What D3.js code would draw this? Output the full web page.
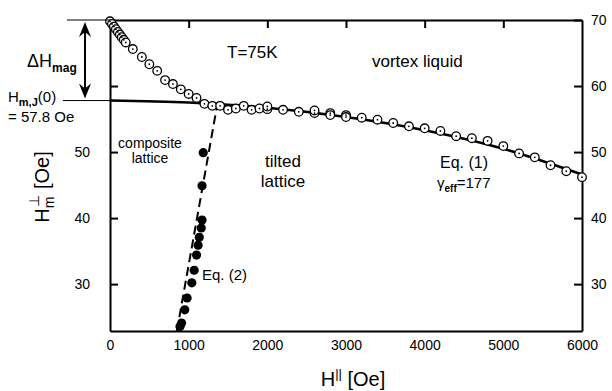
<!DOCTYPE html>
<html>
<head>
<meta charset="utf-8">
<script src="https://cdn.jsdelivr.net/npm/d3@7"></script>
<style>
body { margin: 0; background: #fff; }
text { font-family: "Liberation Sans", Arial, Helvetica, sans-serif; fill: #000; }
</style>
</head>
<body>
<script>
// open circles: upper branch (melting line)
var openH = [0, 25, 50, 75, 100, 125, 150, 175, 200, 290, 405, 500, 600, 700, 800, 900, 1000, 1100, 1200,
    1300, 1400, 1500, 1600, 1700, 1800, 1900, 2000, 2000, 2200, 2400, 2600, 2600, 2800, 2800, 3000, 3000,
    3200, 3400, 3600, 3800, 4000, 4200, 4400, 4600, 4800, 5000, 5200, 5400, 5600, 5800, 6000];
var openV = [69.8, 69.4, 69.0, 68.6, 68.2, 67.8, 67.4, 67.0, 66.6, 65.6, 64.4, 63.3, 62.3, 60.9, 60.3, 59.5, 58.8, 58.2, 57.3,
    57.0, 57.0, 56.4, 56.6, 57.0, 56.4, 56.6, 56.5, 56.9, 56.4, 56.1, 55.9, 56.3, 55.9, 55.6, 55.6, 55.3,
    55.2, 54.9, 54.4, 53.9, 53.6, 53.2, 52.4, 52.1, 51.7, 50.9, 49.8, 49.2, 48.0, 47.1, 46.2];

// filled circles: lower branch
var fullH = [1185, 1170, 1170, 1160, 1135, 1120, 1100, 1070, 1040, 980, 950, 910, 890];
var fullV = [49.9, 44.9, 39.7, 38.5, 37.1, 35.9, 34.4, 32.1, 30.2, 27.9, 26.1, 24.1, 23.6];

// Eq. (1) fit curve
var eq1H = [0, 1000, 2000, 3000, 4000, 5000, 6000];
var eq1V = [57.8, 57.5, 56.7, 55.3, 53.3, 50.5, 46.6];

// Eq. (2) dashed line
var eq2H = [850, 1370];
var eq2V = [22.9, 57.6];

var xTicks = [0, 1000, 2000, 3000, 4000, 5000, 6000];
var yTicks = [30, 40, 50, 60, 70];
var yLeftLabels = [30, 40, 50];

var width = 612, height = 391;
var x = d3.scaleLinear().domain([0, 6000]).range([110, 582]);
var y = d3.scaleLinear().domain([22.9, 70]).range([331, 20]);

var svg = d3.select("body").append("svg")
    .attr("width", width)
    .attr("height", height);

// axes
svg.append("g")
    .attr("transform", "translate(0,331)")
    .call(d3.axisBottom(x).tickValues(xTicks).tickSize(0).tickPadding(9).tickSizeOuter(0).tickFormat(d3.format("d")))
    .call(g => g.select(".domain").attr("stroke-width", 2))
    .call(g => g.selectAll("text").attr("font-size", 14));

svg.append("g")
    .attr("transform", "translate(0,20)")
    .call(d3.axisTop(x).tickValues([1000, 2000, 3000, 4000, 5000]).tickSize(-8).tickFormat("").tickSizeOuter(0))
    .call(g => g.select(".domain").attr("stroke-width", 2))
    .call(g => g.selectAll(".tick line").attr("stroke-width", 2));

svg.append("g")
    .attr("transform", "translate(110,0)")
    .call(d3.axisLeft(y).tickValues([30, 40, 50, 60]).tickSize(-8).tickPadding(20).tickSizeOuter(0)
        .tickFormat(d => yLeftLabels.indexOf(d) >= 0 ? d : ""))
    .call(g => g.select(".domain").attr("stroke-width", 2))
    .call(g => g.selectAll(".tick line").attr("stroke-width", 2))
    .call(g => g.selectAll("text").attr("font-size", 14));

svg.append("g")
    .attr("transform", "translate(582,0)")
    .call(d3.axisRight(y).tickValues(yTicks).tickSize(-8).tickPadding(9).tickSizeOuter(0))
    .call(g => g.select(".domain").attr("stroke-width", 2))
    .call(g => g.selectAll(".tick line").attr("stroke-width", 2))
    .call(g => g.selectAll("text").attr("font-size", 14));

// Eq. (1) curve
var line = d3.line().x(d => x(d[0])).y(d => y(d[1])).curve(d3.curveMonotoneX);
svg.append("path")
    .datum(eq1H.map((h, i) => [h, eq1V[i]]))
    .attr("d", line)
    .attr("fill", "none")
    .attr("stroke", "#000")
    .attr("stroke-width", 2.5);

// Eq. (2) dashed
svg.append("path")
    .datum(eq2H.map((h, i) => [h, eq2V[i]]))
    .attr("d", d3.line().x(d => x(d[0])).y(d => y(d[1])))
    .attr("fill", "none")
    .attr("stroke", "#000")
    .attr("stroke-width", 2)
    .attr("stroke-dasharray", "9,5");

// open circles
var og = svg.append("g");
og.selectAll("circle.o")
    .data(openH.map((h, i) => [h, openV[i]]))
    .join("circle")
    .attr("cx", d => x(d[0]))
    .attr("cy", d => y(d[1]))
    .attr("r", 4.3)
    .attr("fill", "#fff")
    .attr("stroke", "#000")
    .attr("stroke-width", 1.3);
og.selectAll("circle.dot")
    .data(openH.map((h, i) => [h, openV[i]]))
    .join("circle")
    .attr("cx", d => x(d[0]))
    .attr("cy", d => y(d[1]))
    .attr("r", 0.9)
    .attr("fill", "#000");

// filled circles
svg.append("g").selectAll("circle")
    .data(fullH.map((h, i) => [h, fullV[i]]))
    .join("circle")
    .attr("cx", d => x(d[0]))
    .attr("cy", d => y(d[1]))
    .attr("r", 4.6)
    .attr("fill", "#000");

// annotation lines on the left
svg.append("line").attr("x1", 67).attr("x2", 110).attr("y1", y(70)).attr("y2", y(70))
    .attr("stroke", "#000").attr("stroke-width", 1);
svg.append("line").attr("x1", 63).attr("x2", 110).attr("y1", y(57.8)).attr("y2", y(57.8))
    .attr("stroke", "#000").attr("stroke-width", 1);

// double arrow
var ax = 85, ay1 = y(70) + 2, ay2 = y(57.8) - 2;
svg.append("line").attr("x1", ax).attr("x2", ax).attr("y1", ay1 + 10).attr("y2", ay2 - 10)
    .attr("stroke", "#000").attr("stroke-width", 2);
svg.append("path").attr("d", `M${ax},${ay1} L${ax - 6},${ay1 + 15} L${ax},${ay1 + 10} L${ax + 6},${ay1 + 15} Z`);
svg.append("path").attr("d", `M${ax},${ay2} L${ax - 6},${ay2 - 15} L${ax},${ay2 - 10} L${ax + 6},${ay2 - 15} Z`);

// texts
var t = svg.append("text").attr("x", 27).attr("y", 67).attr("font-size", 18);
t.append("tspan").text("ΔH");
t.append("tspan").attr("font-size", 12).attr("font-weight", "bold").attr("dy", 5).text("mag");

t = svg.append("text").attr("x", 8).attr("y", 102).attr("font-size", 15);
t.append("tspan").text("H");
t.append("tspan").attr("font-size", 11).attr("font-weight", "bold").attr("dy", 4).text("m,J");
t.append("tspan").attr("dy", -4).text("(0)");
svg.append("text").attr("x", 8).attr("y", 122).attr("font-size", 15).text("= 57.8 Oe");

svg.append("text").attr("x", 227).attr("y", 58).attr("font-size", 17).text("T=75K");
svg.append("text").attr("x", 372).attr("y", 67).attr("font-size", 17).text("vortex liquid");

svg.append("text").attr("x", 150).attr("y", 148).attr("font-size", 14).attr("text-anchor", "middle").text("composite");
svg.append("text").attr("x", 150).attr("y", 163).attr("font-size", 14).attr("text-anchor", "middle").text("lattice");

svg.append("text").attr("x", 283).attr("y", 167).attr("font-size", 17).attr("text-anchor", "middle").text("tilted");
svg.append("text").attr("x", 283).attr("y", 187).attr("font-size", 17).attr("text-anchor", "middle").text("lattice");

svg.append("text").attr("x", 440).attr("y", 168).attr("font-size", 16).text("Eq. (1)");
t = svg.append("text").attr("x", 437).attr("y", 188).attr("font-size", 15);
t.append("tspan").text("γ");
t.append("tspan").attr("font-size", 10).attr("font-weight", "bold").attr("dy", 4).text("eff");
t.append("tspan").attr("dy", -4).text("=177");

svg.append("text").attr("x", 202).attr("y", 280).attr("font-size", 15).text("Eq. (2)");

// axis titles
t = svg.append("text").attr("x", 353).attr("y", 386).attr("font-size", 20).attr("text-anchor", "middle");
t.append("tspan").text("H");
t.append("tspan").attr("font-size", 13).attr("dy", -8).text("||");
t.append("tspan").attr("dy", 8).text(" [Oe]");

t = svg.append("text").attr("transform", "translate(49,187) rotate(-90)").attr("font-size", 20).attr("text-anchor", "middle");
t.append("tspan").text("H");
t.append("tspan").attr("font-size", 14).attr("dy", 5).text("m");
t.append("tspan").attr("font-size", 14).attr("dx", -10).attr("dy", -15).text("⊥");
t.append("tspan").attr("dy", 10).text(" [Oe]");
</script>
</body>
</html>
